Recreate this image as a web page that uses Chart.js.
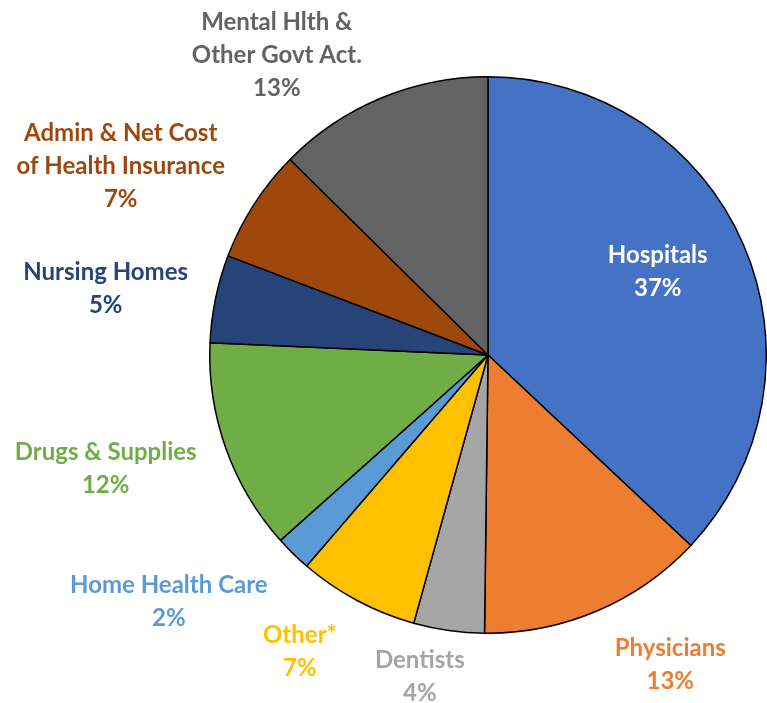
<!DOCTYPE html>
<html>
<head>
<meta charset="utf-8">
<script src="https://cdn.jsdelivr.net/npm/chart.js@4.4.1/dist/chart.umd.min.js"></script>
<style>
  html, body { margin: 0; padding: 0; background: #fff; }
  #wrap { width: 767px; height: 703px; }
</style>
</head>
<body>
<div id="wrap"><canvas id="gastos"></canvas></div>
<script>
const categorias = [
    ['Hospitals'],
    ['Physicians'],
    ['Dentists'],
    ['Other*'],
    ['Home Health Care'],
    ['Drugs & Supplies'],
    ['Nursing Homes'],
    ['Admin & Net Cost', 'of Health Insurance'],
    ['Mental Hlth &', 'Other Govt Act.']
];
const valores = [37.0, 13.2, 4.1, 7.0, 2.1, 12.3, 5.1, 6.6, 12.6];
const cores = ['#4472C4', '#ED7D31', '#A5A5A5', '#FFC000', '#5B9BD5', '#70AD47', '#264478', '#9E480E', '#636363'];
const cores_texto = ['#FFFFFF', '#ED7D31', '#A5A5A5', '#FFC000', '#5B9BD5', '#70AD47', '#264478', '#9E480E', '#636363'];

// posição do centro de cada rótulo, em raios a partir do centro da pizza
const posicao_rotulos = [
    [0.61, -0.30], [0.655, 1.115], [-0.245, 1.158], [-0.676, 1.065], [-1.147, 0.888],
    [-1.374, 0.41], [-1.374, -0.238], [-1.32, -0.68], [-0.759, -1.079]
];

const rotulos = {
    id: 'rotulos',
    afterDatasetsDraw(chart) {
        const ctx = chart.ctx;
        const arco = chart.getDatasetMeta(0).data[0];
        const total = valores.reduce((a, b) => a + b, 0);
        ctx.save();
        ctx.font = 'bold 24px Lato';
        ctx.textAlign = 'center';
        ctx.textBaseline = 'middle';
        categorias.forEach((linhas, i) => {
            const texto = linhas.concat([Math.round(valores[i] / total * 100) + '%']);
            const cx = arco.x + posicao_rotulos[i][0] * arco.outerRadius;
            const cy = arco.y + posicao_rotulos[i][1] * arco.outerRadius;
            const altura = 33;
            ctx.fillStyle = cores_texto[i];
            texto.forEach((t, j) => {
                ctx.fillText(t, cx, cy + (j - (texto.length - 1) / 2) * altura);
            });
        });
        ctx.restore();
    }
};

new Chart(document.getElementById('gastos'), {
    type: 'pie',
    data: {
        labels: categorias.map(c => c.join(' ')),
        datasets: [{
            data: valores,
            backgroundColor: cores,
            borderColor: '#000000',
            borderWidth: 1.5
        }]
    },
    options: {
        responsive: true,
        maintainAspectRatio: false,
        animation: false,
        layout: {
            padding: { left: 209, right: 0, top: 76, bottom: 69 }
        },
        plugins: {
            legend: { display: false },
            tooltip: { enabled: false }
        }
    },
    plugins: [rotulos]
});
</script>
</body>
</html>
